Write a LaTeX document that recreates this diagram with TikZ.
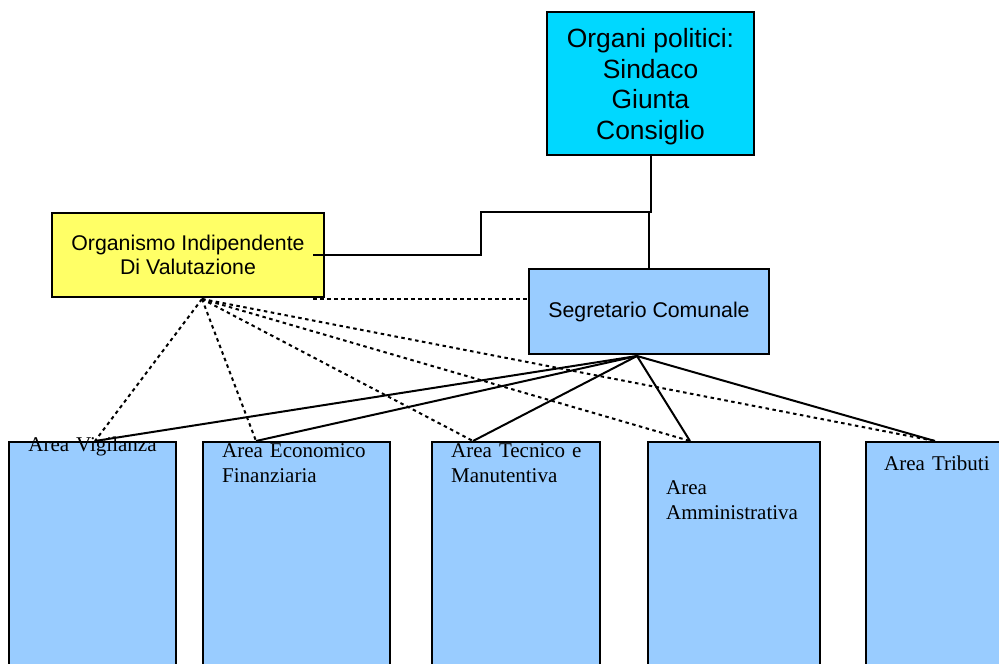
\documentclass[tikz,border=0pt]{standalone}
\usepackage{fontspec}
\setmainfont{Liberation Serif}
\setsansfont{Liberation Sans}
\usetikzlibrary{calc,positioning}
\definecolor{politici}{RGB}{0,216,255}
\definecolor{oiv}{RGB}{255,255,102}
\definecolor{areablue}{RGB}{153,204,255}

\begin{document}
\begin{tikzpicture}[x=1pt,y=-1pt,
	box/.style={draw, line width=2pt, rectangle, inner sep=0pt, align=center, font=\sffamily\fontsize{21.3}{24.6}\selectfont},
	areabox/.style={draw, line width=2pt, rectangle, fill=areablue, anchor=north west, minimum height=260pt, inner sep=0pt},
	areatext/.style={inner sep=0pt, align=left, font=\fontsize{21}{25}\selectfont},
	link/.style={line width=2pt},
	dotlink/.style={line width=2pt, dash pattern=on 3.5pt off 3.5pt}]
			\useasboundingbox (0,0) rectangle (999,664);
			\clip (0,0) rectangle (999,664);
			% top level
			\node[box, fill=politici, minimum width=207pt, minimum height=143pt, font=\sffamily\fontsize{26.4}{30.6}\selectfont] (politici) at (650.5,83.5) {\rule{0pt}{25.5pt}Organi politici:\\Sindaco\\Giunta\\Consiglio};
			\node[box, fill=oiv, minimum width=272pt, minimum height=84pt] (organismo) at (188,255) {Organismo Indipendente\\Di Valutazione};
			\node[box, fill=areablue, minimum width=240pt, minimum height=85pt] (segretario) at (649,311.5) {Segretario Comunale};
			% aree
			\node[areabox, minimum width=167pt] (area1) at (8,441) {};
			\node[areabox, minimum width=187pt] (area2) at (202,441) {};
			\node[areabox, minimum width=168pt] (area3) at (431,441) {};
			\node[areabox, minimum width=172pt] (area4) at (647,441) {};
			\node[areabox, minimum width=150pt] (area5) at (865,441) {};
			\node[areatext, text width=167pt, align=center, anchor=base] (vigilanza) at ($(area1.north)+(0,10)$) {Area Vigilanza};
			\node[areatext, text width=165pt, anchor=base west] (economico) at ($(area2.north west)+(20,16)$) {Area Economico\\Finanziaria};
			\node[areatext, text width=145pt, anchor=base west] (tecnico) at ($(area3.north west)+(20,16)$) {Area Tecnico e\\Manutentiva};
			\node[areatext, text width=150pt, anchor=base west] (amministrativa) at ($(area4.north west)+(19,53)$) {Area\\Amministrativa};
			\node[areatext, text width=120pt, anchor=base west] (tributi) at ($(area5.north west)+(19,29)$) {Area Tributi};
			\coordinate (top1) at ($(area1.north west)+(87,0)$);
			\coordinate (top2) at ($(area2.north west)+(54,0)$);
			\coordinate (top3) at ($(area3.north west)+(42,0)$);
			\coordinate (top4) at ($(area4.north west)+(43,0)$);
			\coordinate (top5) at ($(area5.north west)+(70,0)$);
			\coordinate (hub) at ($(segretario.south)+(-12,1)$);
			\coordinate (fan) at ($(organismo.south)+(14,1)$);
			\coordinate (oivdot) at ($(organismo.south east)+(-12,1)$);
			% collegamenti
			\draw[link] (politici.south) |- (481,212) |- ($(organismo.east)+(-12,0)$);
			\draw[link] (segretario.north) -- ++(0,-57);
			\draw[dotlink] (oivdot) -- (oivdot -| segretario.west);
			\foreach \i in {1,...,5} {
				\draw[dotlink] (fan) -- (top\i);
				\draw[link] (hub) -- (top\i);
			}
		\end{tikzpicture}
\end{document}
